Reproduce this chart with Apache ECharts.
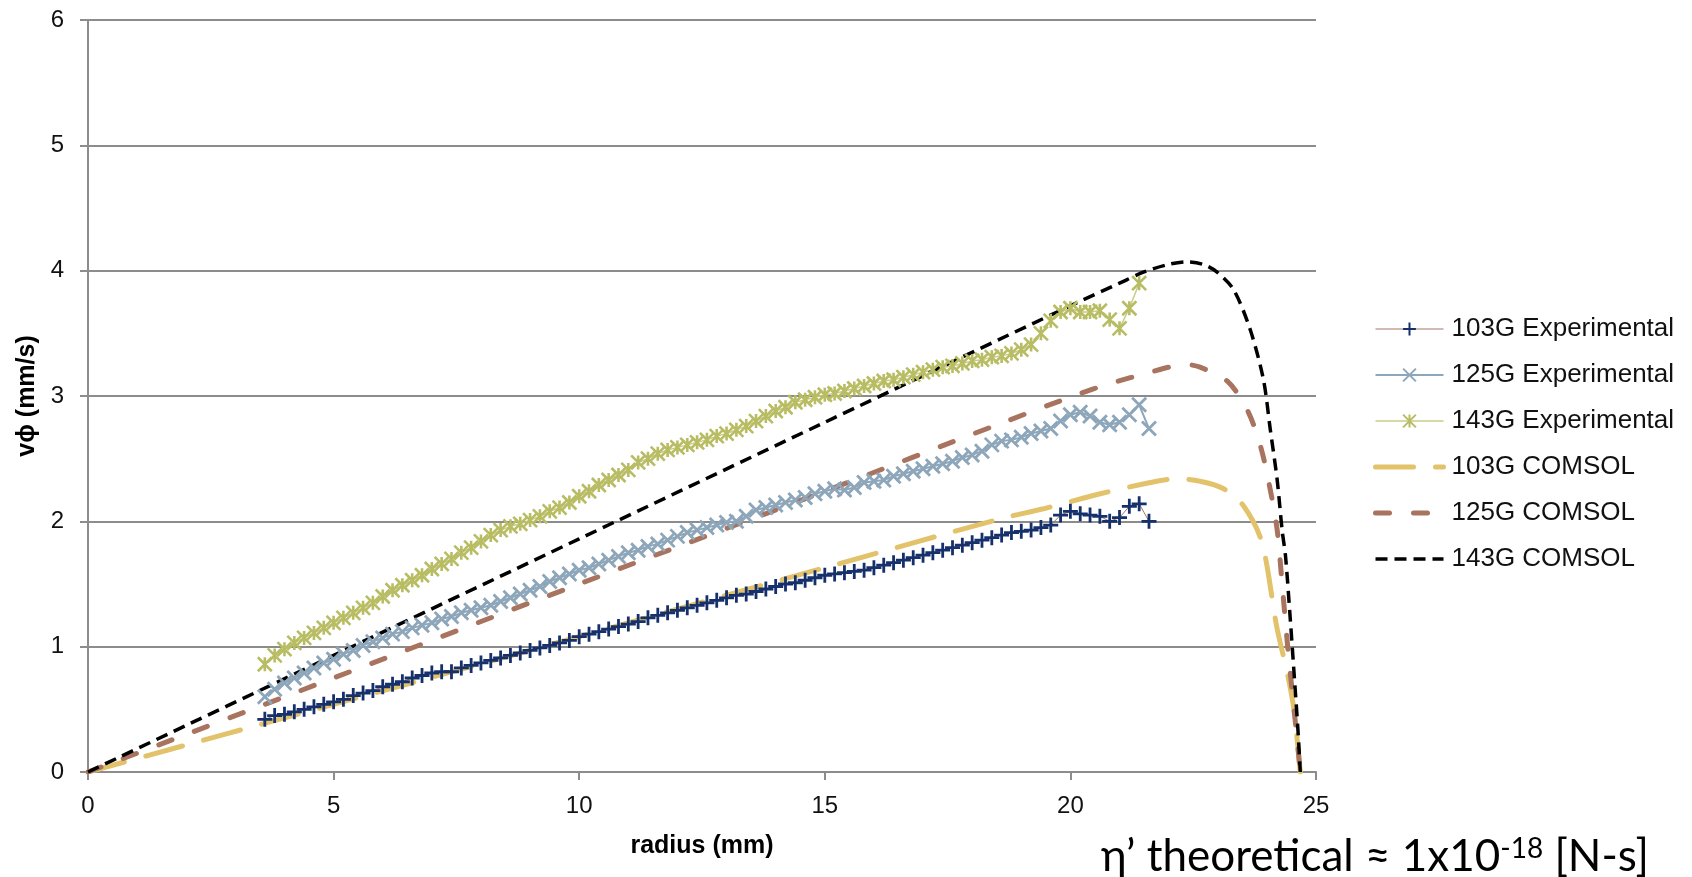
<!DOCTYPE html>
<html>
<head>
<meta charset="utf-8">
<title>v_phi vs radius</title>
<script src="https://cdn.jsdelivr.net/npm/echarts@6/dist/echarts.min.js"></script>
<style>
  html, body { margin: 0; padding: 0; background: #fff; }
  #chart { width: 1692px; height: 877px; }
</style>
</head>
<body>
<div id="chart"></div>
<script>
// radius grid of the measured points (mm)
var expRadius = [
  3.6, 3.8, 4.0, 4.2, 4.4, 4.6, 4.8, 5.0, 5.2, 5.4,
  5.6, 5.8, 6.0, 6.2, 6.4, 6.6, 6.8, 7.0, 7.2, 7.4,
  7.6, 7.8, 8.0, 8.2, 8.4, 8.6, 8.8, 9.0, 9.2, 9.4,
  9.6, 9.8, 10.0, 10.2, 10.4, 10.6, 10.8, 11.0, 11.2, 11.4,
  11.6, 11.8, 12.0, 12.2, 12.4, 12.6, 12.8, 13.0, 13.2, 13.4,
  13.6, 13.8, 14.0, 14.2, 14.4, 14.6, 14.8, 15.0, 15.2, 15.4,
  15.6, 15.8, 16.0, 16.2, 16.4, 16.6, 16.8, 17.0, 17.2, 17.4,
  17.6, 17.8, 18.0, 18.2, 18.4, 18.6, 18.8, 19.0, 19.2, 19.4,
  19.6, 19.8, 20.0, 20.2, 20.4, 20.6, 20.8, 21.0, 21.2, 21.4,
  21.6
];
var exp103 = [
  0.42, 0.45, 0.46, 0.48, 0.50, 0.52, 0.54, 0.56, 0.58, 0.61,
  0.63, 0.65, 0.68, 0.70, 0.72, 0.75, 0.77, 0.79, 0.80, 0.80,
  0.83, 0.85, 0.87, 0.89, 0.91, 0.93, 0.95, 0.97, 0.99, 1.01,
  1.03, 1.05, 1.08, 1.10, 1.12, 1.14, 1.16, 1.18, 1.20, 1.23,
  1.25, 1.27, 1.29, 1.31, 1.33, 1.35, 1.37, 1.39, 1.41, 1.42,
  1.44, 1.46, 1.48, 1.50, 1.51, 1.53, 1.55, 1.57, 1.58, 1.59,
  1.60, 1.61, 1.63, 1.65, 1.67, 1.69, 1.71, 1.73, 1.75, 1.77,
  1.79, 1.81, 1.83, 1.85, 1.87, 1.89, 1.91, 1.92, 1.93, 1.95,
  1.97, 2.05, 2.08, 2.06, 2.05, 2.04, 2.00, 2.03, 2.12, 2.14,
  2.00
];
var exp125 = [
  0.60, 0.66, 0.71, 0.75, 0.79, 0.83, 0.87, 0.90, 0.94, 0.97,
  1.01, 1.04, 1.07, 1.10, 1.12, 1.15, 1.17, 1.19, 1.22, 1.24,
  1.27, 1.29, 1.31, 1.33, 1.36, 1.39, 1.42, 1.45, 1.48, 1.52,
  1.55, 1.58, 1.61, 1.63, 1.66, 1.69, 1.72, 1.75, 1.77, 1.80,
  1.82, 1.85, 1.88, 1.91, 1.93, 1.95, 1.97, 1.99, 2.00, 2.04,
  2.09, 2.11, 2.13, 2.15, 2.17, 2.19, 2.22, 2.24, 2.26, 2.25,
  2.27, 2.31, 2.32, 2.33, 2.36, 2.38, 2.40, 2.42, 2.44, 2.46,
  2.48, 2.51, 2.53, 2.56, 2.61, 2.64, 2.65, 2.67, 2.70, 2.72,
  2.74, 2.80, 2.85, 2.87, 2.84, 2.79, 2.77, 2.79, 2.85, 2.93,
  2.74
];
var exp143 = [
  0.86, 0.93, 0.98, 1.03, 1.07, 1.11, 1.15, 1.19, 1.23, 1.27,
  1.31, 1.35, 1.40, 1.45, 1.49, 1.53, 1.57, 1.62, 1.66, 1.70,
  1.75, 1.79, 1.84, 1.89, 1.93, 1.96, 1.98, 2.01, 2.04, 2.08,
  2.11, 2.15, 2.20, 2.24, 2.29, 2.33, 2.37, 2.41, 2.47, 2.50,
  2.54, 2.57, 2.59, 2.61, 2.63, 2.65, 2.68, 2.70, 2.73, 2.76,
  2.80, 2.84, 2.88, 2.91, 2.95, 2.97, 2.99, 3.01, 3.02, 3.04,
  3.06, 3.08, 3.10, 3.12, 3.13, 3.15, 3.17, 3.19, 3.21, 3.23,
  3.24, 3.26, 3.28, 3.29, 3.31, 3.32, 3.34, 3.37, 3.41, 3.50,
  3.60, 3.67, 3.70, 3.67, 3.67, 3.68, 3.61, 3.54, 3.70, 3.90,
  null
];

// COMSOL model curves
var comsolR103 = [0, 5, 10, 15, 18.57, 19.45, 20.61, 21.63, 22.17, 22.64, 23.12, 23.53, 23.9, 24.2, 24.42, 24.55, 24.68];
var comsol103  = [0, 0.54, 1.08, 1.63, 2.02, 2.10, 2.22, 2.31, 2.34, 2.32, 2.26, 2.12, 1.83, 1.16, 0.78, 0.50, 0];
var comsolR125 = [0, 5, 10, 15, 18.57, 20.13, 20.81, 21.63, 22.0, 22.37, 22.64, 23.19, 23.6, 23.87, 24.07, 24.21, 24.3, 24.4, 24.5, 24.6, 24.68];
var comsol125  = [0, 0.75, 1.5, 2.24, 2.78, 3.01, 3.10, 3.19, 3.23, 3.25, 3.23, 3.12, 2.89, 2.60, 2.25, 1.93, 1.55, 1.10, 0.70, 0.32, 0];
var comsolR143 = [0, 5, 10, 15, 20, 21, 21.5, 22, 22.37, 22.7, 22.98, 23.32, 23.66, 23.93, 24.07, 24.21, 24.31, 24.38, 24.48, 24.56, 24.63, 24.68];
var comsol143  = [0, 0.93, 1.86, 2.79, 3.72, 3.90, 3.99, 4.05, 4.07, 4.05, 3.99, 3.85, 3.53, 3.13, 2.73, 2.33, 1.93, 1.72, 1.20, 0.75, 0.35, 0];

var seriesNames = ['103G Experimental', '125G Experimental', '143G Experimental',
                   '103G COMSOL', '125G COMSOL', '143G COMSOL'];

function pairs(xs, ys) {
  var out = [];
  for (var i = 0; i < xs.length; i++) {
    if (ys[i] !== null) out.push([xs[i], ys[i]]);
  }
  return out;
}

var gridGrey = '#8c8c8c';
var txtFont = 'Liberation Sans';
var noMark = { color: 'rgba(0,0,0,0)', borderWidth: 0 };   // keeps the legend icon a plain line

var plusPath = 'path://M0,5L10,5M5,0L5,10';
var crossPath = 'path://M0,0L10,10M10,0L0,10';
var starPath = 'path://M0,0L10,10M10,0L0,10M5,0L5,10';

var chart = echarts.init(document.getElementById('chart'));
var option = {
  animation: false,
  backgroundColor: '#fff',
  grid: { left: 88, right: 376, top: 20, bottom: 105 },
  legend: {
    orient: 'vertical',
    left: 1368,
    top: 311,
    itemWidth: 68,
    itemHeight: 16,
    itemGap: 20,
    data: seriesNames,
    lineStyle: { width: 'inherit' },
    textStyle: { fontFamily: txtFont, fontSize: 26, color: '#111', padding: [0, 0, 0, 3] }
  },
  xAxis: {
    type: 'value', min: 0, max: 25, interval: 5,
    name: 'radius (mm)', nameLocation: 'middle', nameGap: 62,
    nameTextStyle: { fontFamily: txtFont, fontWeight: 'bold', fontSize: 25, color: '#000' },
    axisLine: { lineStyle: { color: gridGrey, width: 2 } },
    axisTick: { show: true, length: 8, lineStyle: { color: gridGrey, width: 2 } },
    axisLabel: { fontFamily: txtFont, fontSize: 24, color: '#111', margin: 22 },
    splitLine: { show: false }
  },
  yAxis: {
    type: 'value', min: 0, max: 6, interval: 1,
    name: 'vϕ (mm/s)', nameLocation: 'middle', nameGap: 42, nameRotate: 90,
    nameTextStyle: { fontFamily: txtFont, fontWeight: 'bold', fontSize: 25, color: '#000' },
    axisLine: { show: true, lineStyle: { color: gridGrey, width: 2 } },
    axisTick: { show: true, length: 8, lineStyle: { color: gridGrey, width: 2 } },
    axisLabel: { fontFamily: txtFont, fontSize: 24, color: '#111', margin: 24 },
    splitLine: { lineStyle: { color: gridGrey, width: 2 } }
  },
  graphic: [{
    type: 'text',
    left: 1101,
    top: 835,
    style: {
      text: '{a|η’ theoretical ≈ 1x10}{s|-18}{a| [N-s]}',
      rich: {
        a: { fontFamily: 'Lato', fontSize: 44, fill: '#000' },
        s: { fontFamily: 'Lato', fontSize: 28, fill: '#000', verticalAlign: 'top' }
      }
    }
  }],
  series: [
    {
      name: seriesNames[0], type: 'line', data: pairs(expRadius, exp103),
      symbol: plusPath, symbolSize: 15, showAllSymbol: true,
      lineStyle: { color: '#a4766a', width: 1 },
      itemStyle: { color: '#15306b', borderColor: '#15306b', borderWidth: 2.8 }
    },
    {
      name: seriesNames[1], type: 'line', data: pairs(expRadius, exp125),
      symbol: crossPath, symbolSize: 14, showAllSymbol: true,
      lineStyle: { color: '#8da6ba', width: 2 },
      itemStyle: { color: '#8da6ba', borderColor: '#8da6ba', borderWidth: 2.8 }
    },
    {
      name: seriesNames[2], type: 'line', data: pairs(expRadius, exp143),
      symbol: starPath, symbolSize: 14, showAllSymbol: true,
      lineStyle: { color: '#c9cc86', width: 1.5 },
      itemStyle: { color: '#b8bd64', borderColor: '#b8bd64', borderWidth: 2.6 }
    },
    {
      name: seriesNames[3], type: 'line', data: pairs(comsolR103, comsol103),
      symbol: 'none', smooth: 0.3, itemStyle: noMark,
      lineStyle: { color: '#e2c36b', width: 5, type: [38, 22], cap: 'round' }
    },
    {
      name: seriesNames[4], type: 'line', data: pairs(comsolR125, comsol125),
      symbol: 'none', smooth: 0.3, itemStyle: noMark,
      lineStyle: { color: '#a8735f', width: 5, type: [14, 24], cap: 'round' }
    },
    {
      name: seriesNames[5], type: 'line', data: pairs(comsolR143, comsol143),
      symbol: 'none', smooth: 0.3, itemStyle: noMark,
      lineStyle: { color: '#000', width: 3.5, type: [12, 7] }
    }
  ]
};
chart.setOption(option);
</script>
</body>
</html>
